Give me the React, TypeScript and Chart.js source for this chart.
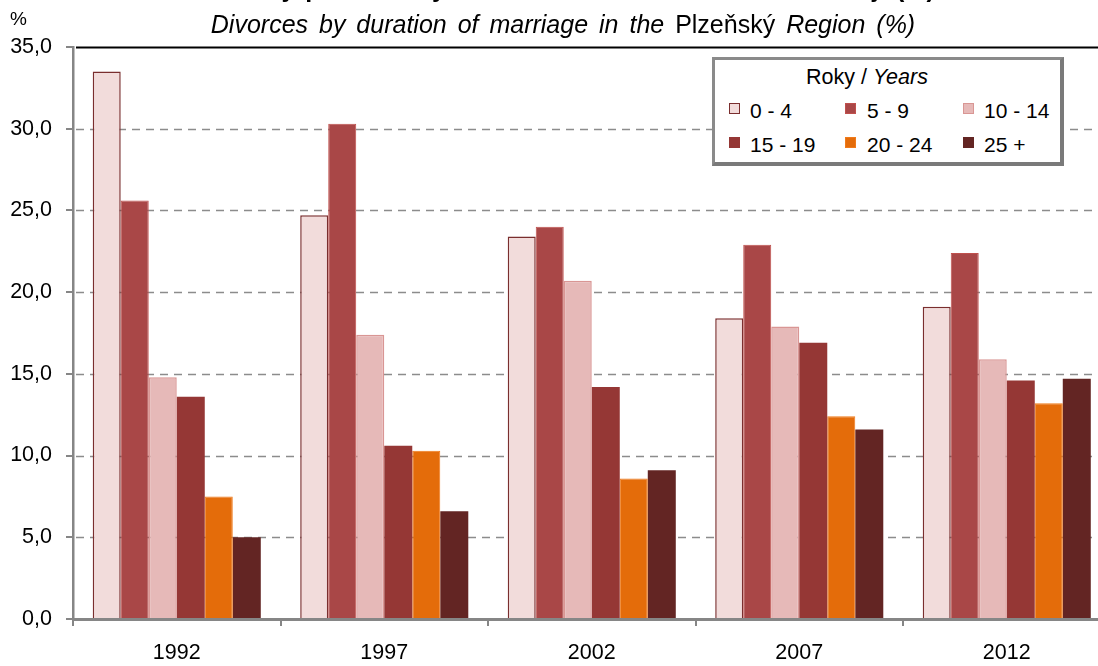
import React, { useEffect, useRef } from "react";
import { Chart, registerables } from "chart.js";

Chart.register(...registerables);

const years = ["1992", "1997", "2002", "2007", "2012"];
const seriesLabels = ["0 - 4", "5 - 9", "10 - 14", "15 - 19", "20 - 24", "25 +"];
const d0_4 = [33.5, 24.7, 23.4, 18.4, 19.1];
const d5_9 = [25.6, 30.3, 24.0, 22.9, 22.4];
const d10_14 = [14.8, 17.4, 20.7, 17.9, 15.9];
const d15_19 = [13.6, 10.6, 14.2, 16.9, 14.6];
const d20_24 = [7.5, 10.3, 8.6, 12.4, 13.2];
const d25 = [5.0, 6.6, 9.1, 11.6, 14.7];
const yTicks = [0, 5, 10, 15, 20, 25, 30, 35];

const fills = ["#F2DCDB", "#A94747", "#E6B9B8", "#953735", "#E46C0A", "#632523"];
const borders = ["#7A2E2E", "#C0504D", "#D99694", "#953735", "#F07A1A", "#632523"];
const bw = [1.5, 1, 1.5, 0, 1, 0];

const FONT = "'Liberation Sans', Arial, sans-serif";

const gridPlugin = {
  id: "customGrid",
  beforeDatasetsDraw(chart: any) {
    const { ctx, chartArea, scales } = chart;
    const y = scales.y;
    ctx.save();
    yTicks.forEach((v) => {
      if (v === 0) return;
      const py = Math.round(y.getPixelForValue(v)) + 0.5;
      ctx.beginPath();
      if (v === 35) {
        ctx.setLineDash([]);
        ctx.strokeStyle = "#000";
        ctx.lineWidth = 2;
      } else {
        ctx.setLineDash([8, 6]);
        ctx.strokeStyle = "#8C8C8C";
        ctx.lineWidth = 1.5;
      }
      ctx.moveTo(chartArea.left + 3, py);
      ctx.lineTo(chartArea.right, py);
      ctx.stroke();
    });
    ctx.restore();
  },
};

export default function App() {
  const ref = useRef<HTMLCanvasElement>(null);
  useEffect(() => {
    const data = [d0_4, d5_9, d10_14, d15_19, d20_24, d25];
    const chart = new Chart(ref.current!, {
      type: "bar",
      data: {
        labels: years,
        datasets: data.map((d, i) => ({
          label: seriesLabels[i],
          data: d,
          backgroundColor: fills[i],
          borderColor: borders[i],
          borderWidth: bw[i],
          categoryPercentage: 0.81,
          barPercentage: 1.0,
        })),
      },
      options: {
        responsive: false,
        animation: false,
        layout: { padding: { top: 47, right: 9.5, left: 0, bottom: 0 } },
        plugins: { legend: { display: false }, tooltip: { enabled: false } },
        scales: {
          y: {
            min: 0,
            max: 35,
            afterFit: (s: any) => {
              s.width = 73;
            },
            afterBuildTicks: (s: any) => {
              s.ticks = yTicks.map((v) => ({ value: v }));
            },
            ticks: {
              callback: (v: any) => Number(v).toFixed(1).replace(".", ","),
              font: { family: FONT, size: 21.5 },
              color: "#000",
              padding: 14,
            },
            grid: { drawOnChartArea: false, tickLength: 7, color: "#868686", lineWidth: 2 },
            border: { color: "#868686", width: 2.5 },
          },
          x: {
            afterFit: (s: any) => {
              s.height = 47;
            },
            ticks: { font: { family: FONT, size: 21.5 }, color: "#000", padding: 14 },
            grid: { offset: true, drawOnChartArea: false, tickLength: 7, color: "#868686", lineWidth: 2 },
            border: { color: "#868686", width: 3 },
          },
        },
      },
      plugins: [gridPlugin],
    });
    return () => chart.destroy();
  }, []);

  const sqX = [14, 130, 248];
  const txX = [35, 152, 269];
  const sqY = [43, 77];
  const txY = [40, 74];

  return (
    <div
      style={{
        position: "fixed",
        left: 0,
        top: 0,
        width: 1098,
        height: 666,
        overflow: "hidden",
        background: "#fff",
        fontFamily: FONT,
      }}
    >
      <canvas ref={ref} width={1120} height={666} style={{ position: "absolute", left: 0, top: 0 }} />
      <div
        style={{
          position: "absolute",
          left: 0,
          width: 1126,
          top: -24,
          textAlign: "center",
          fontWeight: "bold",
          fontSize: 25,
          whiteSpace: "nowrap",
          lineHeight: "25px",
          wordSpacing: 3,
        }}
      >
        Rozvody podle délky trvání manželství v Plzeňském kraji (%)
      </div>
      <div style={{ position: "absolute", left: 10, top: 9, fontSize: 19, lineHeight: "19px" }}>%</div>
      <div
        style={{
          position: "absolute",
          left: 0,
          width: 1126,
          top: 12,
          textAlign: "center",
          fontSize: 25,
          lineHeight: "25px",
          whiteSpace: "nowrap",
          fontStyle: "italic",
          wordSpacing: 4,
        }}
      >
        Divorces by duration of marriage in the <span style={{ fontStyle: "normal" }}>Plzeňský</span> Region (%)
      </div>
      <div
        style={{
          position: "absolute",
          left: 712,
          top: 57,
          width: 352,
          height: 109,
          boxSizing: "border-box",
          borderTop: "3px solid #8A8A8A",
          borderLeft: "3px solid #8A8A8A",
          borderRight: "4px solid #7A7A7A",
          borderBottom: "4px solid #7A7A7A",
          background: "#fff",
        }}
      >
        <div
          style={{
            position: "absolute",
            left: 91,
            top: 7,
            fontSize: 21.5,
            lineHeight: "21.5px",
            whiteSpace: "nowrap",
          }}
        >
          Roky / <i>Years</i>
        </div>
        {seriesLabels.map((l, i) => {
          const c = i % 3;
          const r = Math.floor(i / 3);
          return (
            <React.Fragment key={l}>
              <div
                style={{
                  position: "absolute",
                  left: sqX[c],
                  top: sqY[r],
                  width: 11,
                  height: 11,
                  boxSizing: "border-box",
                  background: fills[i],
                  border: bw[i] > 0 ? `1.5px solid ${borders[i]}` : "none",
                }}
              />
              <div
                style={{
                  position: "absolute",
                  left: txX[c],
                  top: txY[r],
                  fontSize: 21,
                  lineHeight: "21px",
                  whiteSpace: "nowrap",
                }}
              >
                {l}
              </div>
            </React.Fragment>
          );
        })}
      </div>
    </div>
  );
}
